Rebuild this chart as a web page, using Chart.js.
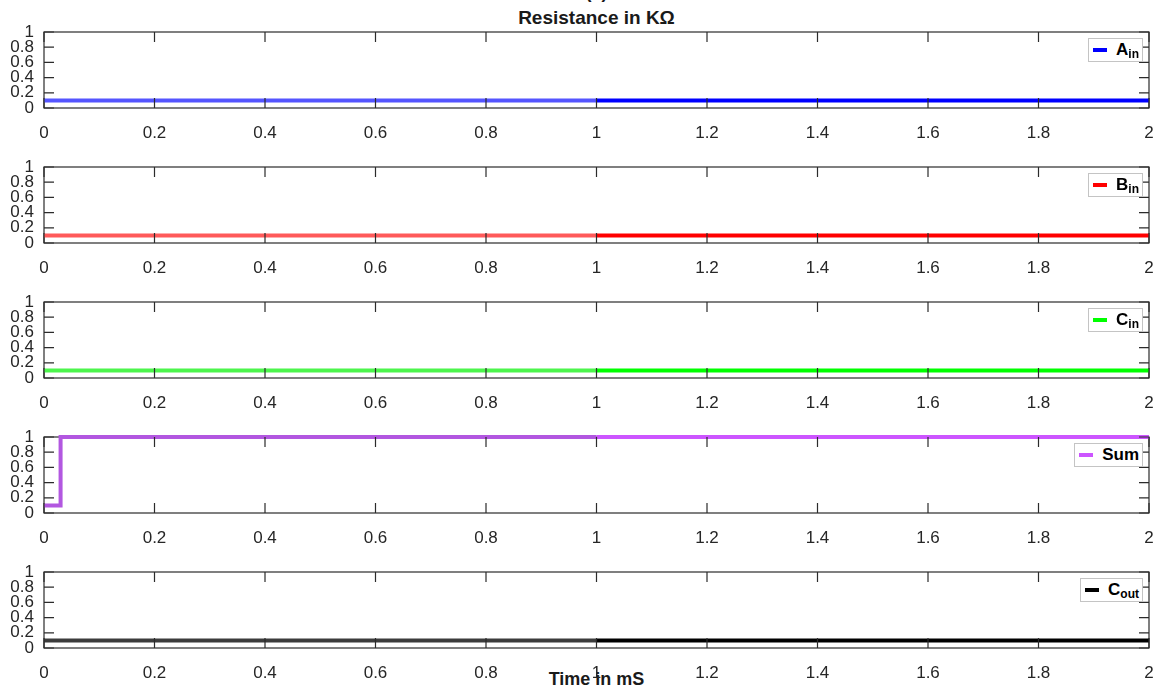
<!DOCTYPE html>
<html>
<head>
<meta charset="utf-8">
<script src="https://cdn.jsdelivr.net/npm/chart.js@4/dist/chart.umd.min.js"></script>
<style>
  html, body { margin: 0; padding: 0; background: #fff; }
  body { width: 1159px; height: 700px; position: relative; overflow: hidden;
         font-family: "Liberation Sans", Arial, sans-serif; color: #1a1a1a; }
  .panel { position: absolute; left: 0; width: 1159px; height: 126px; }
  .txt { position: absolute; left: 44px; width: 1105px; text-align: center;
         font-weight: bold; font-size: 18px; line-height: 18px; white-space: nowrap; }
  .legend { position: absolute; right: 16px; height: 22px; background: #fff;
            border: 1px solid #c4c4c4; display: flex; align-items: center;
            padding: 0 3px 0 4px; font-weight: bold; font-size: 17px; color: #000; }
  .legend .sw { display: inline-block; width: 14px; height: 4px; margin-right: 9px; }
  .legend sub { font-size: 12px; position: relative; top: 4px; vertical-align: baseline; line-height: 0; }
</style>
</head>
<body>
<div class="txt" style="top:-17px">(a)</div>
<div class="txt" style="top:8px;font-size:19px;line-height:19px">Resistance in KΩ</div>
<div class="txt" style="top:670px">Time in mS</div>
<div id="wrap"></div>
<script>
// time axis in mS
const timeMs = [0, 1, 2];
const aIn = [0.1, 0.1, 0.1];
const bIn = [0.1, 0.1, 0.1];
const cIn = [0.1, 0.1, 0.1];
const cOut = [0.1, 0.1, 0.1];
// sum steps up right after start
const sumTime = [0, 0.03, 0.03, 1, 2];
const sumVal = [0.1, 0.1, 1, 1, 1];

const xTicks = [0, 0.2, 0.4, 0.6, 0.8, 1, 1.2, 1.4, 1.6, 1.8, 2];
const yTicks = [0, 0.2, 0.4, 0.6, 0.8, 1];

const panels = [
  { name: "A", sub: "in", t: timeMs, v: aIn, color: "#0000ff", light: "#5555ff" },
  { name: "B", sub: "in", t: timeMs, v: bIn, color: "#ff0000", light: "#ff5a5a" },
  { name: "C", sub: "in", t: timeMs, v: cIn, color: "#00ff00", light: "#4cf54c" },
  { name: "Sum", sub: "", t: sumTime, v: sumVal, color: "#cc55ff", light: "#b257e0" },
  { name: "C", sub: "out", t: timeMs, v: cOut, color: "#000000", light: "#3c3c3c" }
];

const AXIS = "#2b2b2b";
const TICK_LEN = 10;

const frameTicks = {
  id: "frameTicks",
  beforeDatasetsDraw(chart) {
    const { ctx, chartArea: a } = chart;
    ctx.save();
    ctx.strokeStyle = AXIS;
    ctx.lineWidth = 1.2;
    ctx.strokeRect(a.left, a.top, a.right - a.left, a.bottom - a.top);
    ctx.restore();
  },
  afterDatasetsDraw(chart) {
    const { ctx, chartArea: a, scales } = chart;
    ctx.save();
    ctx.strokeStyle = AXIS;
    ctx.lineWidth = 1.2;
    ctx.beginPath();
    xTicks.forEach((v) => {
      const px = scales.x.getPixelForValue(v);
      ctx.moveTo(px, a.bottom);
      ctx.lineTo(px, a.bottom - TICK_LEN);
      ctx.moveTo(px, a.top);
      ctx.lineTo(px, a.top + TICK_LEN);
    });
    yTicks.forEach((v) => {
      const py = scales.y.getPixelForValue(v);
      ctx.moveTo(a.left, py);
      ctx.lineTo(a.left + TICK_LEN, py);
      ctx.moveTo(a.right, py);
      ctx.lineTo(a.right - TICK_LEN, py);
    });
    ctx.stroke();
    ctx.restore();
  }
};

const tickFont = { family: "'Liberation Sans', Arial, sans-serif", size: 17 };
const wrap = document.getElementById("wrap");

panels.forEach((p, i) => {
  const panelTop = 32 + i * 135;
  const div = document.createElement("div");
  div.className = "panel";
  div.style.top = (panelTop - 10) + "px";
  const canvas = document.createElement("canvas");
  div.appendChild(canvas);
  wrap.appendChild(div);

  const lg = document.createElement("div");
  lg.className = "legend";
  lg.style.top = (panelTop + 6) + "px";
  lg.innerHTML = `<span class="sw" style="background:${p.color}"></span>${p.name}` +
    (p.sub ? `<sub>${p.sub}</sub>` : "");
  document.body.appendChild(lg);

  new Chart(canvas, {
    type: "line",
    data: {
      datasets: [{
        data: p.t.map((x, k) => ({ x, y: p.v[k] })),
        borderColor: p.color,
        borderWidth: 4,
        pointRadius: 0,
        clip: false,
        segment: {
          borderColor: (c) => (c.p0.parsed.x < 1 ? p.light : p.color)
        }
      }]
    },
    plugins: [frameTicks],
    options: {
      responsive: true,
      maintainAspectRatio: false,
      animation: false,
      layout: { padding: { top: 10, right: 10, left: 0, bottom: 0 } },
      plugins: { legend: { display: false }, tooltip: { enabled: false } },
      scales: {
        x: {
          type: "linear",
          min: 0,
          max: 2,
          grid: { display: false, drawTicks: false },
          border: { display: false },
          afterBuildTicks(scale) { scale.ticks = xTicks.map((value) => ({ value })); },
          afterFit(scale) {
            scale.height = 40;
            scale.paddingLeft = 0;
            scale.paddingRight = 0;
          },
          ticks: {
            color: "#262626",
            font: tickFont,
            padding: 15,
            maxRotation: 0,
            autoSkip: false,
            callback: (v) => String(v)
          }
        },
        y: {
          min: 0,
          max: 1,
          grid: { display: false, drawTicks: false },
          border: { display: false },
          afterBuildTicks(scale) { scale.ticks = yTicks.map((value) => ({ value })); },
          afterFit(scale) {
            scale.width = 44;
            scale.paddingTop = 0;
            scale.paddingBottom = 0;
          },
          ticks: {
            color: "#262626",
            font: tickFont,
            padding: 10,
            autoSkip: false,
            callback: (v) => String(v)
          }
        }
      }
    }
  });
});
</script>
</body>
</html>
